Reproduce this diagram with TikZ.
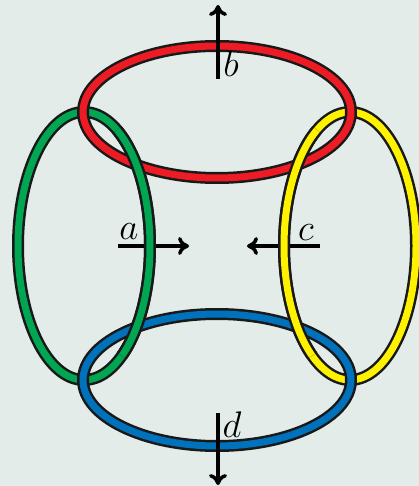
\documentclass[tikz,border=0pt]{standalone}
\usepackage{fix-cm}
\usepackage{tikz}
\usetikzlibrary{arrows.meta,calc}
\definecolor{bgcol}{HTML}{E3ECE9}
\definecolor{ringred}{HTML}{ED1C24}
\definecolor{ringgreen}{HTML}{00A651}
\definecolor{ringblue}{HTML}{0072BC}
\definecolor{ringyellow}{HTML}{FFF200}

\begin{document}
\begin{tikzpicture}[
    x=1pt, y=-1pt,
    >={Computer Modern Rightarrow[length=11pt, width=18pt]},
    rim/.style={draw=black!90, line width=12pt, line cap=butt},
    band/.style={draw=#1, line width=7pt, line cap=butt},
    push/.style={->, line width=3.5pt},
    lbl/.style={font=\fontsize{37}{40}\selectfont, inner sep=0pt, anchor=base}
  ]
    % Background
    \fill[bgcol] (0,0) rectangle (419,486);
    \useasboundingbox (0,0) rectangle (419,486);
    % Centres
    \coordinate (rc) at (217,112);
    \coordinate (bc) at (217,380);
    \coordinate (gc) at (84,246);
    \coordinate (yc) at (350,246);
    % Side arrows (under the rings)
    \coordinate (atail) at (118,246);
    \coordinate (ahead) at (189,246);
    \coordinate (ctail) at (320,246);
    \coordinate (chead) at (247,246);
    \draw[push] (atail) -- (ahead);
    \draw[push] (ctail) -- (chead);
    % Side rings
    \draw[rim] (gc) ellipse [x radius=66pt, y radius=134pt];
    \draw[band=ringgreen] (gc) ellipse [x radius=66pt, y radius=134pt];
    \draw[rim] (yc) ellipse [x radius=66pt, y radius=134pt];
    \draw[band=ringyellow] (yc) ellipse [x radius=66pt, y radius=134pt];
    % Top and bottom rings
    \draw[rim] (rc) ellipse [x radius=134pt, y radius=66pt];
    \draw[band=ringred] (rc) ellipse [x radius=134pt, y radius=66pt];
    \draw[rim] (bc) ellipse [x radius=134pt, y radius=66pt];
    \draw[band=ringblue] (bc) ellipse [x radius=134pt, y radius=66pt];
    % Inner crossings: side rings on top
    \draw[rim] (gc) ++(-55:66pt and 134pt) arc[start angle=-55, end angle=60, x radius=66pt, y radius=134pt];
    \draw[band=ringgreen] (gc) ++(-55:66pt and 134pt) arc[start angle=-55, end angle=60, x radius=66pt, y radius=134pt];
    \draw[rim] (yc) ++(120:66pt and 134pt) arc[start angle=120, end angle=235, x radius=66pt, y radius=134pt];
    \draw[band=ringyellow] (yc) ++(120:66pt and 134pt) arc[start angle=120, end angle=235, x radius=66pt, y radius=134pt];
    % Vertical arrows (over the rings)
    \coordinate (btail) at (218,79);
    \coordinate (bhead) at (218,5);
    \coordinate (dtail) at (218,413);
    \coordinate (dhead) at (218,485);
    \draw[push] (btail) -- (bhead);
    \draw[push] (dtail) -- (dhead);
    % Labels
    \node[lbl] (la) at (129,239) {$a$};
    \node[lbl] (lb) at (231,77) {$b$};
    \node[lbl] (lc) at (306,240) {$c$};
    \node[lbl] (ld) at (232,437) {$d$};
\end{tikzpicture}
\end{document}
